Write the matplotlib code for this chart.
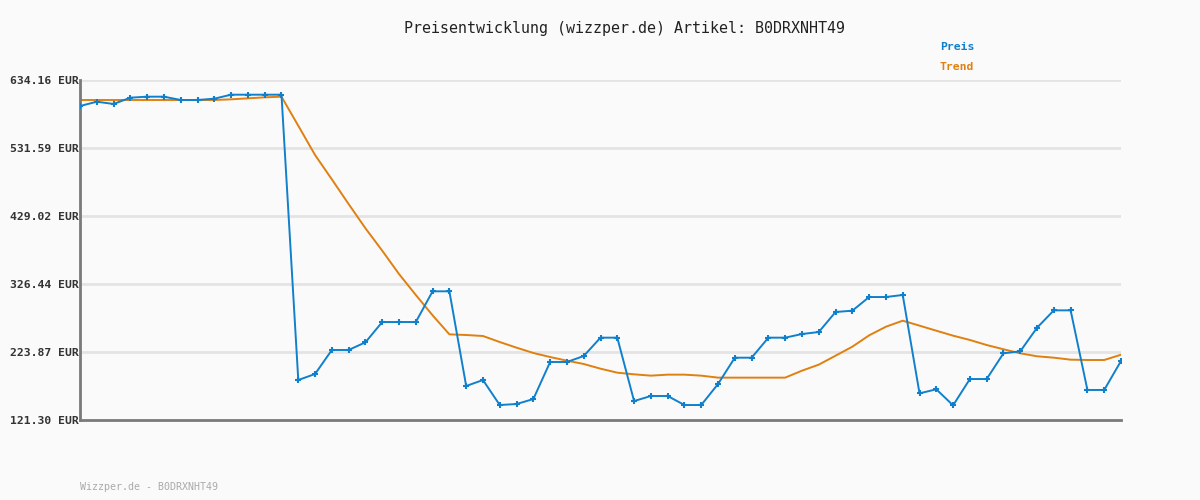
import matplotlib.pyplot as plt
import numpy as np

# price values (EUR)
preis = [594.9, 601.4, 598.0, 607.5, 609.0, 609.0, 604.0, 604.0, 606.0, 612.0,
         612.0, 612.0, 612.0, 181.6, 190.7, 226.9, 226.9, 238.5, 269.1, 269.1,
         269.1, 315.4, 315.4, 172.6, 181.6, 143.9, 145.4, 152.9, 208.8, 208.8,
         217.8, 245.5, 245.5, 149.9, 157.5, 157.5, 143.9, 143.9, 175.6, 215.3,
         215.3, 245.5, 245.5, 251.0, 254.0, 284.2, 286.2, 306.8, 306.8, 309.9,
         161.5, 167.6, 143.4, 183.1, 183.1, 221.9, 224.9, 260.5, 286.7, 286.7,
         166.6, 166.6, 210.3]

trend = [604.0, 604.0, 604.0, 604.0, 604.0, 604.0, 604.0, 604.0, 604.0, 605.0,
         606.5, 608.0, 609.0, 565.2, 521.0, 484.3, 447.0, 410.5, 376.7, 341.5,
         309.9, 279.2, 250.5, 249.5, 248.0, 238.9, 230.4, 222.4, 216.3, 210.8,
         205.8, 198.7, 192.7, 190.2, 188.2, 189.7, 189.7, 188.2, 185.2, 185.2,
         185.2, 185.2, 185.2, 195.7, 204.8, 218.3, 231.9, 249.0, 262.0, 271.1,
         263.6, 256.0, 248.5, 242.0, 234.4, 228.0, 221.9, 217.4, 215.3, 212.3,
         211.8, 211.8, 219.8]

y_ticks = [121.30, 223.87, 326.44, 429.02, 531.59, 634.16]

BG = '#fafafa'
BLUE = '#1080cc'
ORANGE = '#e08010'
MONO = 'DejaVu Sans Mono'


def plot_chart():
    fig = plt.figure(figsize=(12, 5), dpi=100, facecolor=BG)
    ax = fig.add_axes([80 / 1200, 80 / 500, 1041 / 1200, 340 / 500], facecolor=BG)

    x = np.arange(len(preis))
    ax.set_xlim(0, len(preis) - 1)
    ax.set_ylim(y_ticks[0], y_ticks[-1])

    for v in y_ticks[1:]:
        ax.axhline(v, color='#e4e4e4', lw=2, zorder=0)

    ax.plot(x, trend, color=ORANGE, lw=1.4, zorder=2)
    ax.plot(x, preis, color=BLUE, lw=1.4, marker='+', markersize=4.5,
            markeredgewidth=1.5, zorder=3)

    for s in ['top', 'right']:
        ax.spines[s].set_visible(False)
    for s in ['left', 'bottom']:
        ax.spines[s].set_color('#7a7a7a')
        ax.spines[s].set_linewidth(2.0)

    ax.set_xticks([])
    ax.set_yticks(y_ticks)
    ax.set_yticklabels([f'{v:.2f} EUR' for v in y_ticks], family=MONO,
                       fontsize=8.2, color='#333333', fontweight='bold')
    ax.tick_params(axis='y', length=0, pad=1)

    fig.text(624 / 1200, 1 - 28 / 500, 'Preisentwicklung (wizzper.de) Artikel: B0DRXNHT49',
             family=MONO, fontsize=10.8, color='#222222', ha='center', va='center')
    fig.text(940 / 1200, 1 - 47 / 500, 'Preis', family=MONO, fontsize=8.2,
             fontweight='bold', color=BLUE, ha='left', va='center')
    fig.text(940 / 1200, 1 - 67 / 500, 'Trend', family=MONO, fontsize=8.2,
             fontweight='bold', color=ORANGE, ha='left', va='center')
    fig.text(80 / 1200, 1 - 487 / 500, 'Wizzper.de - B0DRXNHT49', family=MONO,
             fontsize=7.2, color='#aaaaaa', ha='left', va='center')

    fig.savefig('out.png', dpi=100, facecolor=BG)


if __name__ == '__main__':
    plot_chart()
